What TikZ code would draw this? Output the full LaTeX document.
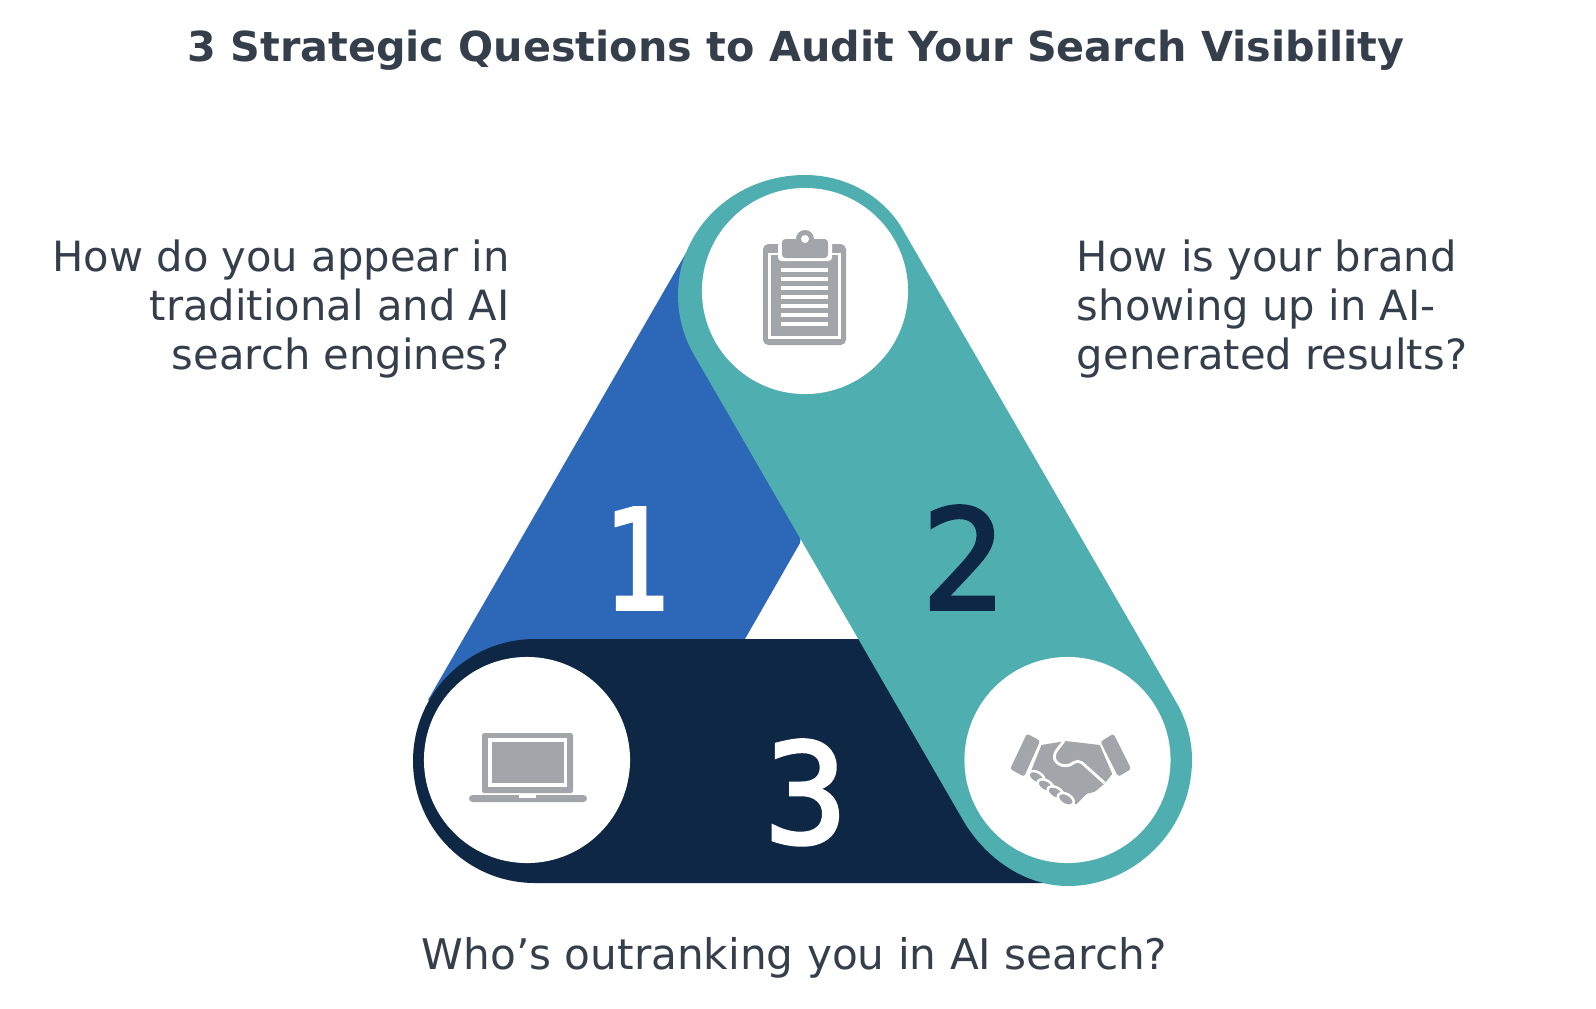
\documentclass[tikz,border=0pt]{standalone}
\usepackage{fontspec}
\setmainfont{DejaVu Sans}
\newfontfamily\digitfont[RawFeature={embolden=2.5}]{DejaVu Sans Mono}
\definecolor{tealband}{HTML}{4FAEB0}
\definecolor{blueband}{HTML}{2D68B8}
\definecolor{navyband}{HTML}{0E2745}
\definecolor{icongray}{HTML}{A2A5A9}
\definecolor{textgray}{HTML}{353F4C}
\begin{document}
\begin{tikzpicture}[
        x=0.01cm, y=-0.01cm,
        hole/.style={circle, fill=white, minimum size=2.06cm, inner sep=0pt},
        question/.style={text=textgray, font=\fontsize{11.85pt}{14pt}\selectfont},
        digit/.style={anchor=base, font=\fontsize{39.5pt}{46pt}\digitfont},
        icon/.style={fill=icongray},
        cut/.style={fill=white}
    ]
        \useasboundingbox (0,0) rectangle (1596,1008);

        % Title
        \node[text=textgray, font=\fontsize{11.75pt}{16pt}\selectfont\bfseries] (title) at (796,50) {3 Strategic Questions to Audit Your Search Visibility};

        % Bands
        \fill[blueband] (690,246) -- (428,700) -- (600,800) -- (745,639) -- (800,543) -- (810,470) -- (760,340) -- cycle;
        \fill[navyband] (535,639) -- (900,639) -- (1050,883) -- (535,883) arc[start angle=90, end angle=270, radius=122] -- cycle;
        \fill[tealband] (903,230) -- (1175,700) .. controls (1187,720) and (1192,740) .. (1192,760)
            .. controls (1192,830) and (1134,886) .. (1068,886) .. controls (1025,886) and (985,858) .. (963,820)
            -- (693,353) .. controls (683,335) and (678,315) .. (678,295)
            .. controls (678,228) and (735,175) .. (805,175) .. controls (848,175) and (885,198) .. (903,230) -- cycle;

        % Circles
        \node[hole] (clipcircle) at (805,291) {};
        \node[hole] (laptopcircle) at (527,760) {};
        \node[hole] (handcircle) at (1067.5,760) {};

        % Numbers
        \node[digit, text=white, xscale=0.8] (one) at (636,609) {1};
        \node[digit, text=navyband] (two) at (963,609) {2};
        \node[digit, text=white] (three) at (806,843) {3};

        % Clipboard icon
        \fill[icon, rounded corners=1.5pt] (763,244) rectangle (846,345);
        \fill[cut] (768,253) rectangle (841,339);
        \fill[icon] (771,255) rectangle (838,336);
        \fill[cut, rounded corners=1pt] (778,236) rectangle (832,261);
        \fill[icon, rounded corners=1pt] (782,239) rectangle (828,258);
        \fill[icon] (805,239) circle [radius=9];
        \fill[cut] (805,239) circle [radius=4];
        \foreach \liney in {270,279,288,297,306,315,324}
            \fill[cut] (781,\liney-1.7) rectangle (828,\liney+1.7);

        % Laptop icon
        \fill[icon, rounded corners=0.5pt] (482,733) rectangle (573,793);
        \fill[cut] (488,738) rectangle (567,787);
        \fill[icon] (492,742) rectangle (564,783);
        \fill[icon, rounded corners=1pt] (469,795) rectangle (587,802);
        \fill[cut] (519,795) rectangle (536,797.5);

        % Handshake icon
        \begin{scope}[shift={(921.5,620)}, scale=1/3]
            \fill[icon, rounded corners=0.7pt] (316,341) -- (356,362) -- (308,470) -- (266,447) -- cycle;
            \fill[icon, rounded corners=0.7pt] (576,341) -- (537,365) -- (590,470) -- (629,447) -- cycle;
            \fill[icon] (360,375) -- (432,363) -- (535,375) -- (572,462) -- (548,492) -- (520,515) -- (495,522) -- (465,552) -- (430,545) -- (325,462) -- cycle;
            \draw[white, line width=0.8pt, rounded corners=1.5pt] (428,362) -- (395,405) -- (405,432) -- (440,440) -- (470,418) -- (550,490);
            \foreach \fx/\fy in {345/472, 372/497, 402/518, 433/538}
                \fill[icon, draw=white, line width=0.7pt, rotate around={-30:(\fx,\fy)}] (\fx,\fy) ellipse [x radius=26, y radius=16];
        \end{scope}

        % Questions
        \node[question, align=right, anchor=east] (left) at (522,309) {How do you appear in\\traditional and AI\\search engines?};
        \node[question, align=left, anchor=west] (right) at (1064.5,309) {How is your brand\\showing up in AI-\\generated results?};
        \node[question, font=\fontsize{12pt}{14pt}\selectfont] (bottom) at (794.5,958) {Who’s outranking you in AI search?};
    \end{tikzpicture}
\end{document}
